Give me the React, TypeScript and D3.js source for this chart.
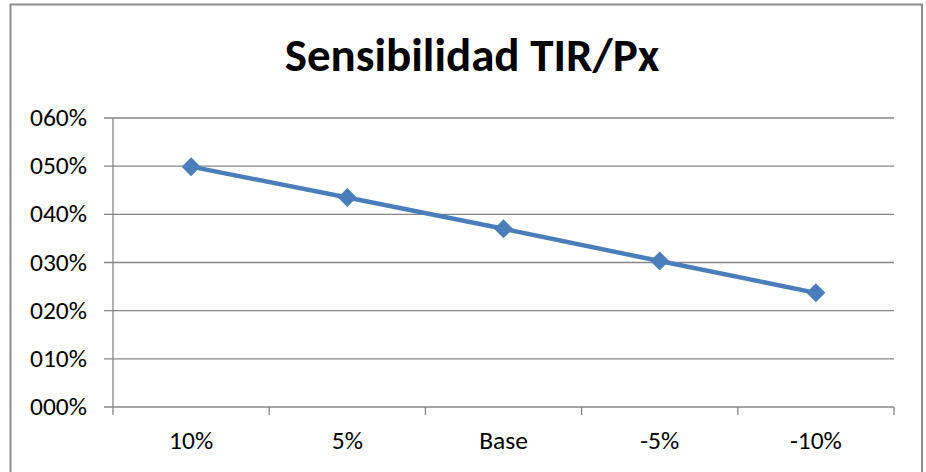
import React from 'react'
import * as d3 from 'd3'

const categories = ['10%', '5%', 'Base', '-5%', '-10%']
const tirValues = [0.499, 0.435, 0.37, 0.303, 0.237]
const yTicks = [0, 0.1, 0.2, 0.3, 0.4, 0.5, 0.6]
const yTickLabels = ['000%', '010%', '020%', '030%', '040%', '050%', '060%']
const title = 'Sensibilidad TIR/Px'

const W = 926
const H = 472
const margin = { left: 113, right: 894, top: 118, bottom: 407 }
const font = 'Carlito, Calibri, Lato, sans-serif'
const gray = '#868686'
const blue = '#4A7EBB'

const x = d3
  .scaleBand<string>()
  .domain(categories)
  .range([margin.left, margin.right])
  .padding(0)

const y = d3
  .scaleLinear()
  .domain([0, 0.6])
  .range([margin.bottom, margin.top])

const line = d3
  .line<number>()
  .x((d, i) => x(categories[i])! + x.bandwidth() / 2)
  .y((d) => y(d))

const diamond = d3.symbol(d3.symbolDiamond2, 230)

const App = () => {
  const edges = [margin.left, ...categories.map((c) => x(c)! + x.bandwidth())]
  return (
    <svg
      width={W}
      height={H}
      style={{ position: 'absolute', left: 0, top: 0 }}
      fontFamily={font}
    >
      <rect x={0} y={0} width={W} height={H} fill="#fff" />
      <rect
        x={10.5}
        y={4.5}
        width={911.5}
        height={500}
        fill="none"
        stroke="#8c8c8c"
        strokeWidth={2}
      />
      <text
        x={472}
        y={71}
        textAnchor="middle"
        fontSize={47}
        fontWeight="bold"
        fill="#000"
      >
        {title}
      </text>

      {/* gridlines + y labels */}
      {yTicks.map((t, i) => (
        <g key={t}>
          <line
            x1={104}
            x2={margin.right}
            y1={y(t)}
            y2={y(t)}
            stroke={gray}
            strokeWidth={1.3}
          />
          <text
            x={87}
            y={y(t) + 8}
            textAnchor="end"
            fontSize={25.5}
            fill="#000"
          >
            {yTickLabels[i]}
          </text>
        </g>
      ))}

      {/* axes */}
      <line
        x1={margin.left}
        x2={margin.left}
        y1={margin.top}
        y2={margin.bottom + 8}
        stroke={gray}
        strokeWidth={1.3}
      />
      {edges.slice(1).map((e, i) => (
        <line
          key={i}
          x1={e}
          x2={e}
          y1={margin.bottom}
          y2={margin.bottom + 8}
          stroke={gray}
          strokeWidth={1.3}
        />
      ))}
      {categories.map((c) => (
        <text
          key={c}
          x={x(c)! + x.bandwidth() / 2}
          y={449}
          textAnchor="middle"
          fontSize={25.5}
          fill="#000"
        >
          {c}
        </text>
      ))}

      {/* series */}
      <path d={line(tirValues)!} fill="none" stroke={blue} strokeWidth={4.5} />
      {tirValues.map((v, i) => (
        <path
          key={i}
          d={diamond()!}
          transform={`translate(${x(categories[i])! + x.bandwidth() / 2},${y(v)})`}
          fill={blue}
        />
      ))}
    </svg>
  )
}

export default App
